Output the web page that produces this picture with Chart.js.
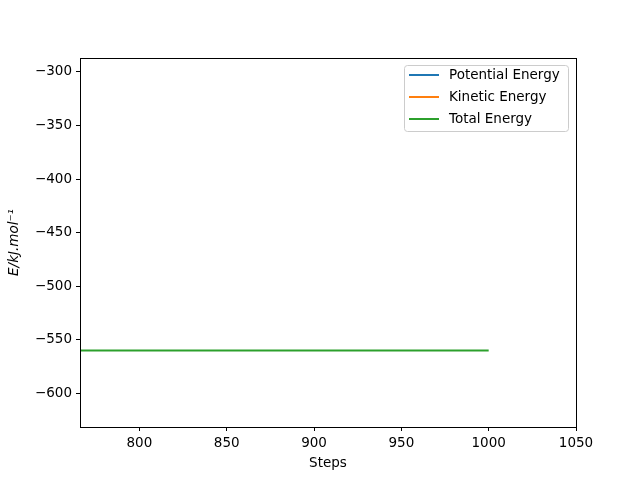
<!DOCTYPE html>
<html>
<head>
<meta charset="utf-8">
<script src="https://cdn.jsdelivr.net/npm/chart.js@4.4.0/dist/chart.umd.min.js"></script>
<style>
  html, body { margin: 0; padding: 0; background: #fff; }
  #wrap { width: 640px; height: 480px; }
</style>
</head>
<body>
<div id="wrap"><canvas id="myChart" width="640" height="480"></canvas></div>
<script>
'use strict';

// data
let steps = [760, 800, 850, 900, 950, 1000];
let potentialEnergy = [];   // not visible in the picture
let kineticEnergy = [];     // not visible in the picture
let totalEnergy = [-560, -560, -560, -560, -560, -560];

let xTicks = [800, 850, 900, 950, 1000, 1050];
let yTicks = [-600, -550, -500, -450, -400, -350, -300];

let seriesNames = ['Potential Energy', 'Kinetic Energy', 'Total Energy'];
let seriesColors = ['#1f77b4', '#ff7f0e', '#2ca02c'];

function toPoints(ys) {
    let pts = [];
    for (let i = 0; i < ys.length; i++) {
        pts.push({ x: steps[i], y: ys[i] });
    }
    return pts;
}

function minus(v) {
    return String(v).replace('-', '\u2212');
}

let font = 'DejaVu Sans';

// box round the axes plus a matplotlib-like legend
let framePlugin = {
    id: 'frame',
    afterDatasetsDraw(chart) {
        let ctx = chart.ctx;
        let a = chart.chartArea;
        ctx.save();
        ctx.strokeStyle = '#000';
        ctx.lineWidth = 1;
        ctx.strokeRect(Math.round(a.left) + 0.5, Math.round(a.top) + 0.5,
            Math.round(a.right - a.left), Math.round(a.bottom - a.top));

        // legend
        let bx = 404.5, by = 65.5, bw = 164, bh = 66;
        ctx.beginPath();
        ctx.roundRect(bx, by, bw, bh, 3);
        ctx.fillStyle = 'rgba(255,255,255,0.8)';
        ctx.fill();
        ctx.strokeStyle = '#cccccc';
        ctx.stroke();
        ctx.font = '13.5px "' + font + '"';
        ctx.textBaseline = 'middle';
        let datasets = chart.data.datasets;
        for (let i = 0; i < datasets.length; i++) {
            let y = 75 + i * 22;
            ctx.beginPath();
            ctx.moveTo(409, y);
            ctx.lineTo(439, y);
            ctx.strokeStyle = datasets[i].borderColor;
            ctx.lineWidth = 2;
            ctx.stroke();
            ctx.fillStyle = '#000';
            ctx.fillText(datasets[i].label, 449, y);
        }
        ctx.restore();
    }
};

let datasets = [potentialEnergy, kineticEnergy, totalEnergy].map(function (ys, i) {
    return {
        label: seriesNames[i],
        data: toPoints(ys),
        borderColor: seriesColors[i],
        backgroundColor: seriesColors[i],
        borderWidth: 2,
        pointRadius: 0,
        tension: 0
    };
});

let ctx = document.getElementById('myChart').getContext('2d');
let myChart = new Chart(ctx, {
    type: 'line',
    data: { datasets: datasets },
    options: {
        responsive: false,
        animation: false,
        layout: { padding: { top: 58, right: 64, left: 0, bottom: 0 } },
        plugins: {
            legend: { display: false },
            tooltip: { enabled: false }
        },
        scales: {
            x: {
                type: 'linear',
                min: 766,
                max: 1050,
                afterBuildTicks: function (scale) {
                    scale.ticks = xTicks.map(function (v) { return { value: v }; });
                },
                afterFit: function (scale) { scale.height = 53; },
                grid: { drawOnChartArea: false, drawTicks: true, tickLength: 4, color: '#000' },
                border: { display: false },
                ticks: {
                    color: '#000',
                    padding: 4,
                    maxRotation: 0,
                    font: { family: font, size: 13.5 },
                    callback: function (v) { return minus(v); }
                },
                title: {
                    display: true,
                    text: 'Steps',
                    color: '#000',
                    padding: { top: 2, bottom: 8 },
                    font: { family: font, size: 13.5 }
                }
            },
            y: {
                type: 'linear',
                min: -631.5,
                max: -287,
                afterBuildTicks: function (scale) {
                    scale.ticks = yTicks.map(function (v) { return { value: v }; });
                },
                afterFit: function (scale) { scale.width = 80; },
                grid: { drawOnChartArea: false, drawTicks: true, tickLength: 4, color: '#000' },
                border: { display: false },
                ticks: {
                    color: '#000',
                    padding: 4,
                    font: { family: font, size: 13.5 },
                    callback: function (v) { return minus(v); }
                },
                title: {
                    display: true,
                    text: 'E/kJ.mol\u207B\u00B9',
                    color: '#000',
                    padding: { top: 6, bottom: 0 },
                    font: { family: font, size: 13.5, style: 'italic' }
                }
            }
        }
    },
    plugins: [framePlugin]
});
</script>
</body>
</html>
